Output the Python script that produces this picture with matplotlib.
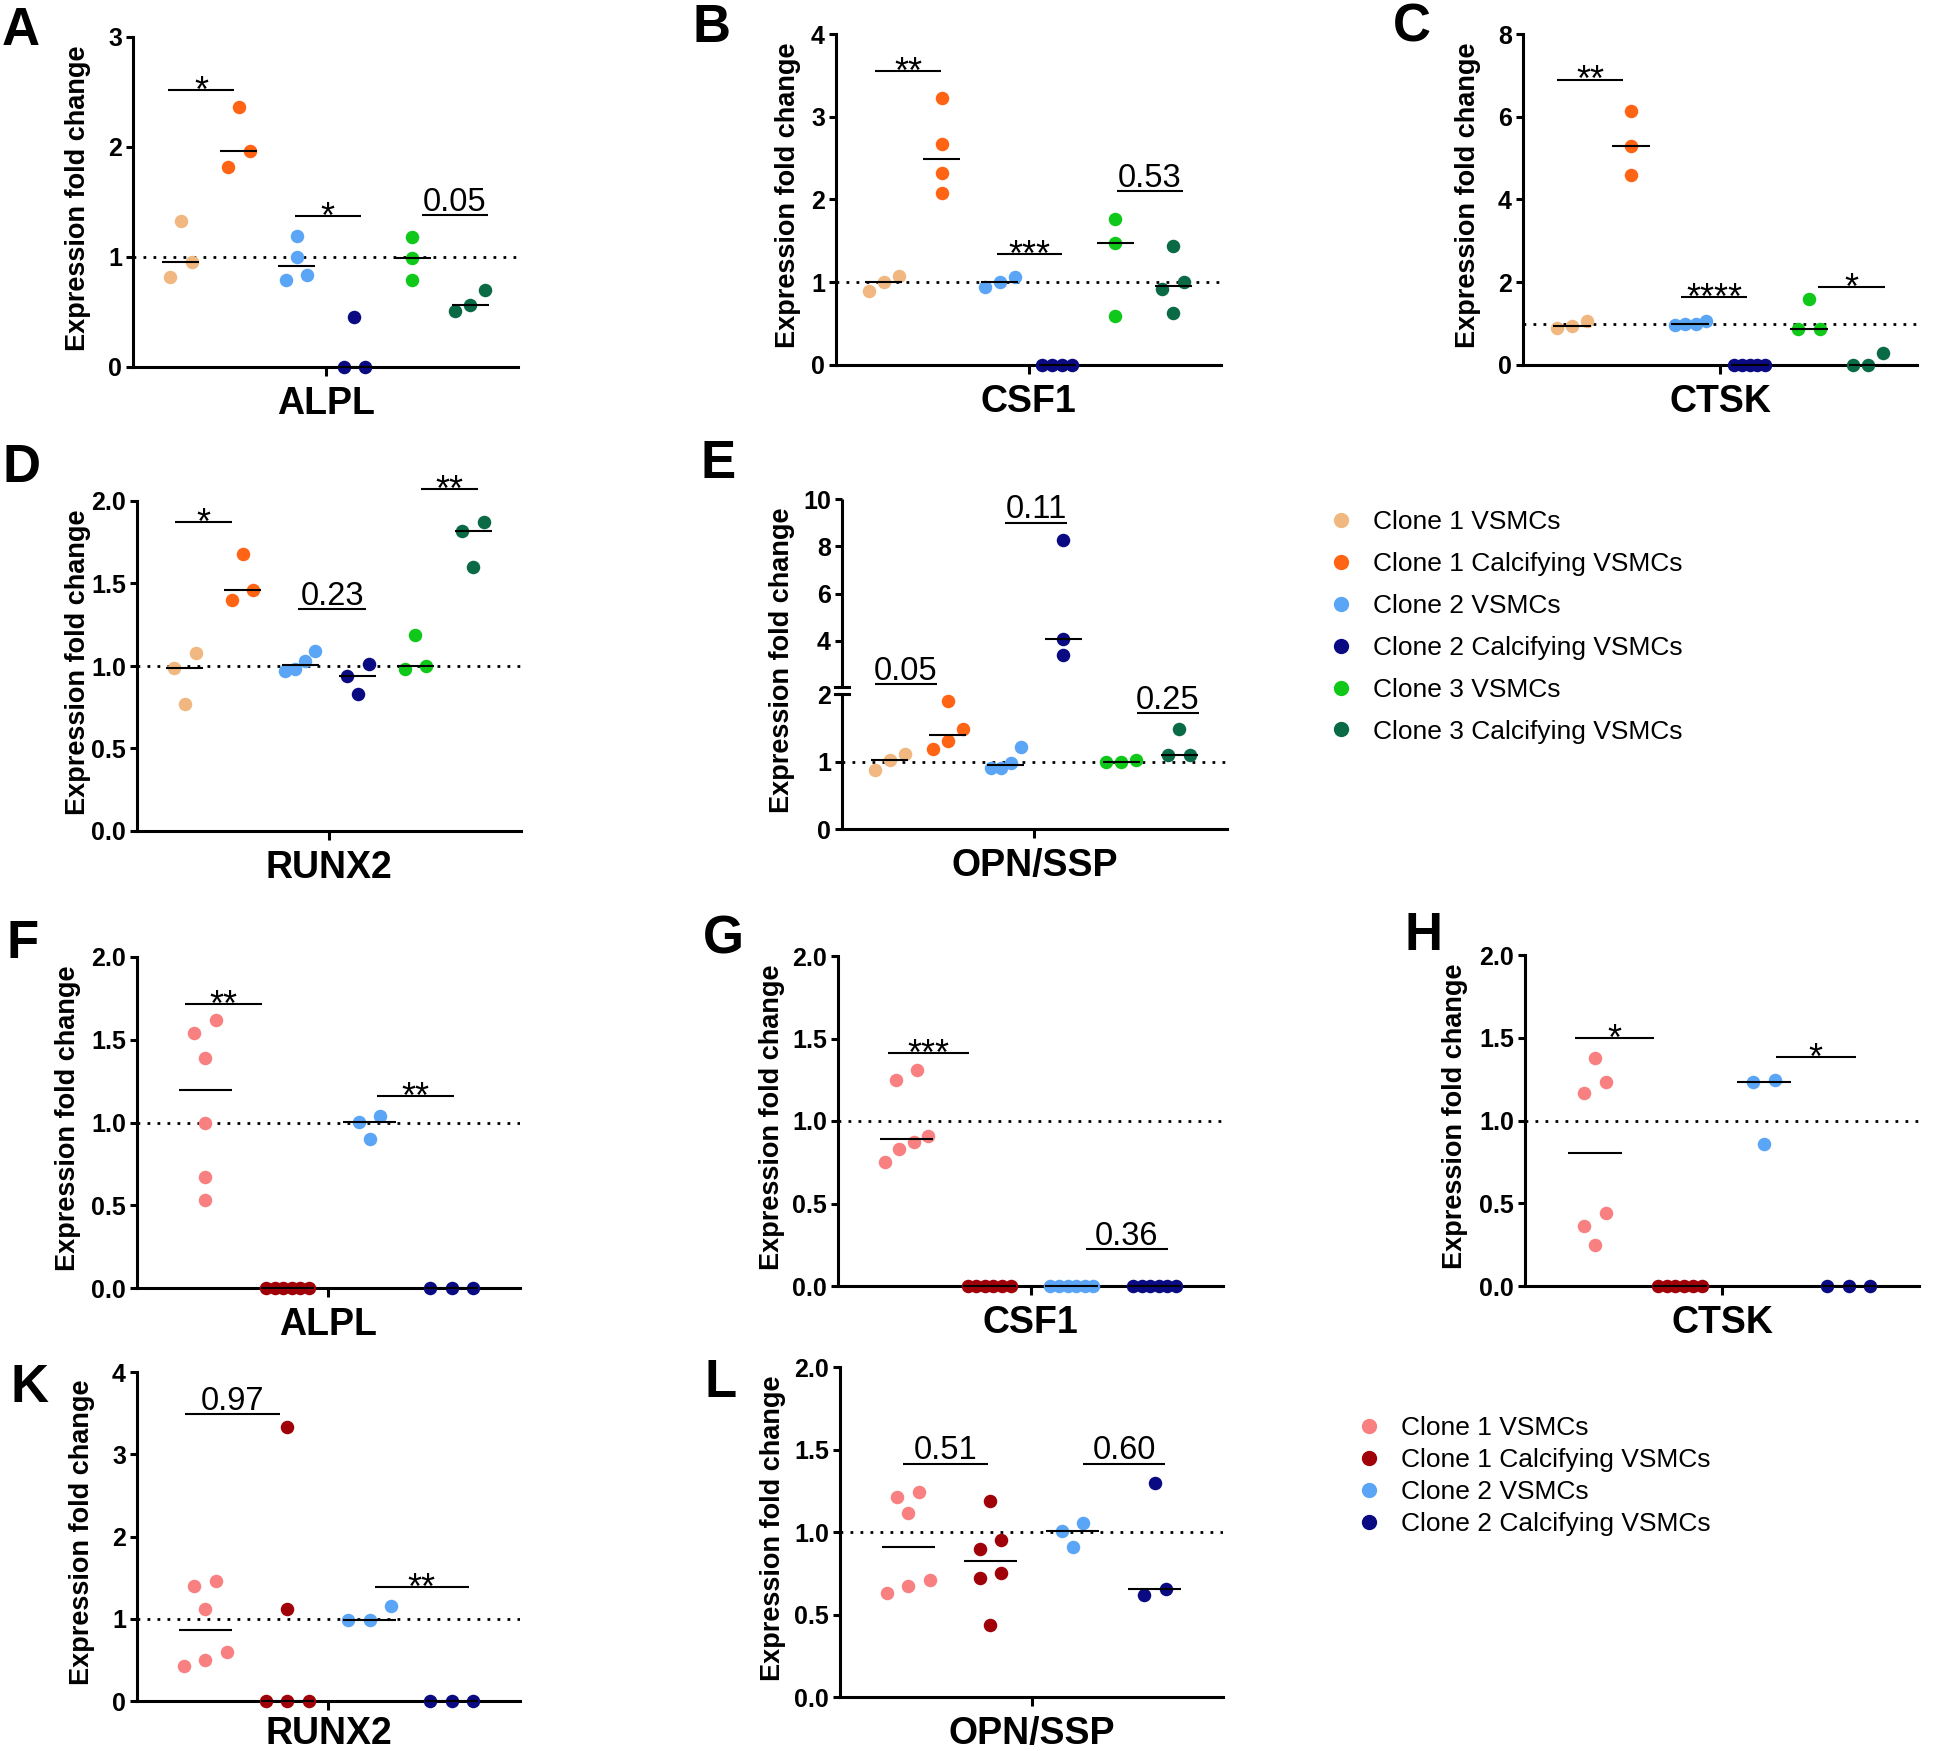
import numpy as np
import matplotlib
matplotlib.use('Agg')
import matplotlib.pyplot as plt
from matplotlib.lines import Line2D
import matplotlib.transforms as mtrans

plt.rcParams['font.family'] = ['Liberation Sans', 'DejaVu Sans']

W, H = 1946, 1751

# ---- groups / colours ----
groups_top = ['Clone 1 VSMCs', 'Clone 1 Calcifying VSMCs', 'Clone 2 VSMCs',
              'Clone 2 Calcifying VSMCs', 'Clone 3 VSMCs', 'Clone 3 Calcifying VSMCs']
colors_top = ['#F0B880', '#FF6414', '#5AA5F5', '#0A0A82', '#10C81A', '#0A6A46']
groups_bot = ['Clone 1 VSMCs', 'Clone 1 Calcifying VSMCs', 'Clone 2 VSMCs',
              'Clone 2 Calcifying VSMCs']
colors_bot = ['#F88080', '#A00008', '#5AA5F5', '#0A0A82']

# ---- values (one list per group) ----
alpl_a = [[1.33, 0.95, 0.82], [2.36, 1.96, 1.82], [1.19, 1.0, 0.84, 0.79],
          [0.45, 0.0, 0.0], [1.18, 0.99, 0.79], [0.70, 0.56, 0.51]]
csf1_b = [[1.08, 0.90, 1.0], [3.23, 2.67, 2.32, 2.08], [1.06, 0.94, 1.0],
          [0.0, 0.0, 0.0, 0.0], [1.77, 1.48, 0.59], [1.44, 1.0, 0.92, 0.63]]
ctsk_c = [[0.90, 1.07, 0.95], [6.13, 5.30, 4.60], [0.97, 1.06, 1.0, 0.99],
          [0.0, 0.0, 0.0, 0.0, 0.0], [1.59, 0.86, 0.88], [0.28, 0.0, 0.0]]
runx2_d = [[1.08, 0.99, 0.77], [1.68, 1.46, 1.40], [1.09, 1.03, 0.97, 0.98],
           [1.01, 0.94, 0.83], [1.19, 0.98, 1.0], [1.87, 1.82, 1.60]]
opn_e = [[1.11, 0.87, 1.02], [1.90, 1.48, 1.19, 1.30], [1.21, 0.98, 0.91, 0.91],
         [8.28, 4.10, 3.40], [0.99, 1.02, 0.99], [1.48, 1.09, 1.09]]
alpl_f = [[1.62, 1.54, 1.39, 1.0, 0.67, 0.53], [0, 0, 0, 0, 0, 0],
          [1.04, 1.005, 0.90], [0, 0, 0]]
csf1_g = [[1.25, 1.31, 0.87, 0.91, 0.75, 0.83], [0, 0, 0, 0, 0, 0],
          [0, 0, 0, 0, 0, 0], [0, 0, 0, 0, 0, 0]]
ctsk_h = [[1.376, 1.23, 1.165, 0.443, 0.362, 0.248], [0, 0, 0, 0, 0, 0],
          [1.243, 1.23, 0.856], [0, 0, 0]]
runx2_k = [[1.46, 1.40, 1.12, 0.60, 0.50, 0.425], [3.33, 1.12, 0, 0, 0],
           [1.15, 0.98, 0.98], [0, 0, 0]]
opn_l = [[1.214, 1.113, 1.242, 0.71, 0.633, 0.67],
         [1.19, 0.95, 0.895, 0.75, 0.72, 0.4375],
         [1.052, 1.008, 0.911], [1.294, 0.619, 0.653]]

# significance annotations: (from, to, level, label), x in group units
sig_a = [(-0.22, 0.92, 2.52, '*'), (1.97, 3.11, 1.37, '*'), (4.17, 5.31, 1.38, '0.05')]
sig_b = [(-0.16, 0.99, 3.55, '**'), (1.96, 3.08, 1.34, '***'), (4.03, 5.17, 2.10, '0.53')]
sig_c = [(-0.25, 0.86, 6.9, '**'), (1.84, 2.96, 1.65, '****'), (4.16, 5.29, 1.88, '*')]
sig_d = [(-0.17, 0.81, 1.87, '*'), (1.96, 3.15, 1.345, '0.23'), (4.09, 5.08, 2.07, '**')]
sig_e = [(-0.26, 0.81, 2.16, '0.05'), (1.99, 3.06, 9.0, '0.11'), (4.27, 5.35, 1.72, '0.25')]
sig_f = [(-0.24, 0.69, 1.715, '**'), (2.09, 3.03, 1.16, '**')]
sig_g = [(-0.23, 0.75, 1.41, '***'), (2.17, 3.16, 0.225, '0.36')]
sig_h = [(-0.24, 0.70, 1.50, '*'), (2.14, 3.08, 1.384, '*')]
sig_k = [(-0.24, 0.91, 3.49, '0.97'), (2.06, 3.21, 1.38, '**')]
sig_l = [(-0.06, 0.97, 1.415, '0.51'), (2.13, 3.13, 1.415, '0.60')]

panels = [
    dict(letter='A', gene='ALPL', data=alpl_a, colors=colors_top, ymax=3, yticks=[0, 1, 2, 3], fmt='{:.0f}',
         sig=sig_a, box=(133, 518, 37, 367), ylab=78, lxy=(2, 45)),
    dict(letter='B', gene='CSF1', data=csf1_b, colors=colors_top, ymax=4, yticks=[0, 1, 2, 3, 4], fmt='{:.0f}',
         sig=sig_b, box=(836, 1221, 34, 365), ylab=788, lxy=(693, 42)),
    dict(letter='C', gene='CTSK', data=ctsk_c, colors=colors_top, ymax=8, yticks=[0, 2, 4, 6, 8], fmt='{:.0f}',
         sig=sig_c, box=(1523, 1917, 34, 365), ylab=1468, lxy=(1393, 42)),
    dict(letter='D', gene='RUNX2', data=runx2_d, colors=colors_top, ymax=2, yticks=[0, 0.5, 1, 1.5, 2], fmt='{:.1f}',
         sig=sig_d, box=(137, 521, 501, 831), ylab=78, lxy=(2, 482)),
    dict(letter='E', gene='OPN/SSP', data=opn_e, colors=colors_top, ymax=10, yticks=[0, 1, 2, 4, 6, 8, 10], fmt='{:.0f}',
         sig=sig_e, box=(842, 1227, 499, 829), ylab=782, lxy=(701, 478), broken=True),
    dict(letter='F', gene='ALPL', data=alpl_f, colors=colors_bot, ymax=2, yticks=[0, 0.5, 1, 1.5, 2], fmt='{:.1f}',
         sig=sig_f, box=(137, 520, 957, 1288), ylab=68, lxy=(7, 958)),
    dict(letter='G', gene='CSF1', data=csf1_g, colors=colors_bot, ymax=2, yticks=[0, 0.5, 1, 1.5, 2], fmt='{:.1f}',
         sig=sig_g, box=(838, 1223, 956, 1286), ylab=772, lxy=(703, 953)),
    dict(letter='H', gene='CTSK', data=ctsk_h, colors=colors_bot, ymax=2, yticks=[0, 0.5, 1, 1.5, 2], fmt='{:.1f}',
         sig=sig_h, box=(1525, 1919, 955, 1286), ylab=1455, lxy=(1404, 950)),
    dict(letter='K', gene='RUNX2', data=runx2_k, colors=colors_bot, ymax=4, yticks=[0, 1, 2, 3, 4], fmt='{:.0f}',
         sig=sig_k, box=(137, 520, 1372, 1701), ylab=82, lxy=(10, 1402)),
    dict(letter='L', gene='OPN/SSP', data=opn_l, colors=colors_bot, ymax=2, yticks=[0, 0.5, 1, 1.5, 2], fmt='{:.1f}',
         sig=sig_l, box=(840, 1223, 1367, 1697), ylab=773, lxy=(704, 1397)),
]

MS = 13.5      # dot diameter in px
PAD = 0.83     # x margin in group units

fig = plt.figure(figsize=(W / 100, H / 100), dpi=100)


def fx(px):
    return px / W


def fy(py):
    return 1 - py / H


def swarm(ax, vals, spacing):
    # spread near-equal dots sideways, roughly like a column scatter
    vals = np.asarray(vals, float)
    ypx = ax.transData.transform(np.column_stack([np.zeros_like(vals), vals]))[:, 1]
    order = np.argsort(ypx, kind='stable')
    offs = np.zeros(len(vals))
    clusters = [[order[0]]]
    for k in order[1:]:
        if ypx[k] - ypx[clusters[-1][-1]] < 1.15 * MS:
            clusters[-1].append(k)
        else:
            clusters.append([k])
    for c in clusters:
        n = len(c)
        if n == 1:
            continue
        step = min(1.6 * MS, 0.52 * spacing / (n - 1))
        for i, k in enumerate(c):
            offs[k] = (i - (n - 1) / 2) * step / spacing
    return offs


# broken axis mapping for OPN/SSP (upper part compressed)
brk_in = [-100, 0, 2, 2.05, 10, 100]
brk_out = [-100, 0, 2, 2.104, 4.889, 4.889 + 90 * 0.3503]


def fwd(y):
    return np.interp(y, brk_in, brk_out)


def inv(y):
    return np.interp(y, brk_out, brk_in)


def draw(p):
    l, r, t, b = p['box']
    ax = fig.add_axes([fx(l), fy(b), (r - l) / W, (b - t) / H])
    n = len(p['data'])
    ax.set_xlim(-PAD, n - 1 + PAD)
    if p.get('broken'):
        ax.set_yscale('function', functions=(fwd, inv))
    ax.set_ylim(0, p['ymax'])
    spacing = (r - l) / (n - 1 + 2 * PAD)

    ax.axhline(1, color='black', lw=2.0, ls=(0, (1, 2.6)), zorder=1)
    for i, (vals, c) in enumerate(zip(p['data'], p['colors'])):
        offs = swarm(ax, vals, spacing)
        ax.scatter(i + offs, vals, s=(MS * 0.72) ** 2, color=c, linewidths=0,
                   zorder=3, clip_on=False)
        med = np.median(vals)
        ax.plot([i - 0.32, i + 0.32], [med, med], color='black', lw=1.5,
                zorder=4, solid_capstyle='butt', clip_on=False)

    for x0, x1, y, txt in p['sig']:
        ax.plot([x0, x1], [y, y], color='black', lw=1.5, clip_on=False,
                solid_capstyle='butt')
        star = txt.startswith('*')
        ax.annotate(txt, xy=((x0 + x1) / 2, y), xytext=(0, -8.5 if star else 3),
                    textcoords='offset points', ha='center', va='baseline',
                    fontsize=26 if star else 23.5, annotation_clip=False)

    for s in ['top', 'right']:
        ax.spines[s].set_visible(False)
    for s in ['left', 'bottom']:
        ax.spines[s].set_linewidth(2.2)
    ax.set_yticks(p['yticks'])
    ax.set_yticklabels([p['fmt'].format(v) for v in p['yticks']],
                       fontsize=18, fontweight='bold')
    ax.set_xticks([(n - 1) / 2])
    ax.set_xticklabels([])
    ax.tick_params(axis='y', length=5, width=2.2, pad=3)
    ax.tick_params(axis='x', length=6.5, width=2.2)

    if p.get('broken'):
        ax.spines['left'].set_visible(False)
        x0 = -PAD
        ax.plot([x0, x0], [0, 2], color='black', lw=2.2, clip_on=False, solid_capstyle='butt')
        ax.plot([x0, x0], [2.05, 10], color='black', lw=2.2, clip_on=False, solid_capstyle='butt')
        tr = mtrans.blended_transform_factory(ax.transAxes, ax.transData)
        dx = 7 / (r - l)
        for yb in [2, 2.05]:
            ax.plot([-dx, dx], [yb, yb], color='black', lw=2.2, transform=tr, clip_on=False)

    # labels
    fig.text(fx(p['ylab']), fy((t + b) / 2 - 4), 'Expression fold change', rotation=90,
             ha='center', va='center', fontsize=19.5, fontweight='bold')
    fig.text(fx((l + r) / 2), fy(min(b + 47, 1744)), p['gene'], ha='center', va='baseline',
             fontsize=27, fontweight='bold')
    fig.text(fx(p['lxy'][0]), fy(p['lxy'][1]), p['letter'], ha='left', va='baseline',
             fontsize=38, fontweight='bold')
    return ax


for p in panels:
    draw(p)

h_top = [Line2D([], [], marker='o', ls='', color=c, markersize=10) for c in colors_top]
fig.legend(h_top, groups_top, loc='upper left', bbox_to_anchor=(fx(1328), fy(510)),
           frameon=False, fontsize=19, handlelength=1.0, handletextpad=0.7,
           labelspacing=0.68, borderpad=0, borderaxespad=0)
h_bot = [Line2D([], [], marker='o', ls='', color=c, markersize=10) for c in colors_bot]
fig.legend(h_bot, groups_bot, loc='upper left', bbox_to_anchor=(fx(1356), fy(1416)),
           frameon=False, fontsize=19, handlelength=1.0, handletextpad=0.7,
           labelspacing=0.3, borderpad=0, borderaxespad=0)

fig.savefig('out.png', dpi=100)
